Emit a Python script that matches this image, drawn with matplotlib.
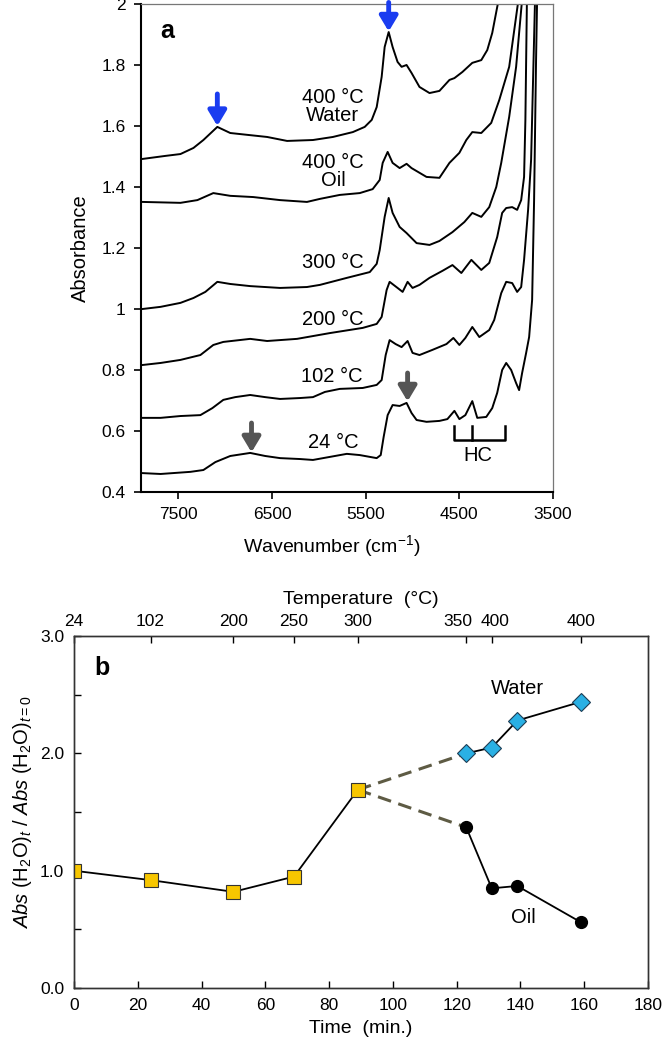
import numpy as np
import matplotlib
matplotlib.use('Agg')
import matplotlib.pyplot as plt
import matplotlib.transforms as mtransforms

plt.rcParams['font.family'] = ['Liberation Sans', 'DejaVu Sans']
plt.rcParams['mathtext.fontset'] = 'custom'
plt.rcParams['mathtext.rm'] = 'Liberation Sans'
plt.rcParams['mathtext.it'] = 'Liberation Sans:italic'
plt.rcParams['mathtext.bf'] = 'Liberation Sans:bold'

# ---- panel a: NIR spectra (wavenumber, absorbance) ----
wn_24 = [7894, 7691, 7372, 7234, 7106, 6947, 6734, 6574, 6415, 6202, 6064, 5883, 5702, 5564,
         5383, 5340, 5309, 5266, 5213, 5138, 5064, 5011, 4957, 4851, 4713, 4628, 4553, 4500,
         4436, 4362, 4309, 4213, 4149, 4096, 4043, 4000, 3947, 3894, 3862, 3830, 3787, 3755,
         3723, 3702, 3681, 3665]
ab_24 = [0.462, 0.459, 0.466, 0.472, 0.498, 0.518, 0.528, 0.518, 0.511, 0.508, 0.505, 0.515,
         0.525, 0.521, 0.511, 0.521, 0.580, 0.652, 0.685, 0.682, 0.692, 0.659, 0.636, 0.630,
         0.633, 0.639, 0.666, 0.639, 0.652, 0.698, 0.643, 0.646, 0.675, 0.725, 0.800, 0.823,
         0.800, 0.757, 0.734, 0.790, 0.856, 0.908, 1.030, 1.357, 1.816, 2.1]

wn_102 = [7894, 7691, 7479, 7266, 7138, 7021, 6894, 6734, 6574, 6415, 6202, 6064, 5936, 5777,
          5532, 5383, 5330, 5287, 5245, 5181, 5117, 5053, 5000, 4926, 4787, 4638, 4564, 4500,
          4436, 4362, 4287, 4181, 4128, 4053, 4000, 3936, 3883, 3840, 3809, 3766, 3734, 3713,
          3685]
ab_102 = [0.643, 0.643, 0.649, 0.652, 0.675, 0.702, 0.711, 0.718, 0.711, 0.705, 0.708, 0.711,
          0.728, 0.738, 0.741, 0.751, 0.767, 0.849, 0.898, 0.885, 0.875, 0.895, 0.856, 0.849,
          0.866, 0.885, 0.905, 0.882, 0.905, 0.941, 0.908, 0.931, 0.964, 1.052, 1.089, 1.085,
          1.056, 1.072, 1.161, 1.325, 1.489, 1.751, 2.1]

wn_200 = [7894, 7691, 7479, 7266, 7128, 7021, 6734, 6553, 6234, 5883, 5532, 5383, 5330, 5277,
          5245, 5160, 5106, 5053, 5000, 4926, 4819, 4681, 4574, 4479, 4372, 4266, 4181, 4096,
          4043, 4000, 3936, 3883, 3840, 3809, 3795, 3775]
ab_200 = [0.816, 0.823, 0.833, 0.849, 0.882, 0.892, 0.902, 0.895, 0.902, 0.921, 0.938, 0.951,
          0.974, 1.062, 1.089, 1.069, 1.056, 1.089, 1.069, 1.079, 1.102, 1.125, 1.144, 1.118,
          1.161, 1.128, 1.151, 1.236, 1.315, 1.331, 1.334, 1.325, 1.357, 1.433, 1.62, 2.1]

wn_300 = [7883, 7691, 7479, 7340, 7213, 7085, 6947, 6734, 6415, 6128, 5989, 5702, 5457, 5383,
          5351, 5298, 5255, 5213, 5138, 5064, 4957, 4819, 4713, 4574, 4447, 4362, 4266, 4181,
          4106, 4053, 3968, 3894, 3820]
ab_300 = [1.000, 1.007, 1.020, 1.036, 1.056, 1.089, 1.082, 1.075, 1.069, 1.072, 1.079, 1.102,
          1.121, 1.148, 1.193, 1.302, 1.364, 1.315, 1.269, 1.249, 1.216, 1.210, 1.223, 1.252,
          1.285, 1.315, 1.302, 1.334, 1.400, 1.479, 1.630, 1.794, 2.05]

wn_oil = [7883, 7479, 7298, 7128, 6947, 6702, 6415, 6128, 5989, 5777, 5564, 5426, 5351, 5319,
          5266, 5213, 5138, 5064, 5011, 4851, 4713, 4606, 4500, 4426, 4362, 4266, 4160, 4074,
          3968, 3862]
ab_oil = [1.351, 1.348, 1.357, 1.380, 1.371, 1.367, 1.357, 1.351, 1.361, 1.374, 1.380, 1.393,
          1.423, 1.479, 1.515, 1.479, 1.462, 1.476, 1.462, 1.433, 1.430, 1.479, 1.512, 1.554,
          1.580, 1.577, 1.610, 1.685, 1.794, 2.03]

wn_water = [7883, 7638, 7479, 7340, 7234, 7085, 6947, 6766, 6553, 6340, 6064, 5851, 5638, 5511,
            5436, 5383, 5330, 5298, 5255, 5213, 5160, 5117, 5064, 5011, 4926, 4819, 4713, 4606,
            4553, 4468, 4362, 4266, 4202, 4149, 4096, 4070]
ab_water = [1.492, 1.502, 1.508, 1.528, 1.554, 1.597, 1.577, 1.571, 1.564, 1.551, 1.554, 1.564,
            1.580, 1.597, 1.620, 1.662, 1.761, 1.859, 1.908, 1.859, 1.810, 1.794, 1.800, 1.774,
            1.728, 1.708, 1.715, 1.751, 1.757, 1.777, 1.807, 1.816, 1.849, 1.905, 1.990, 2.03]

spec_labels = ['24 °C', '102 °C', '200 °C', '300 °C', '400 °C\nOil', '400 °C\nWater']
label_pos = [(5845, 0.561), (5860, 0.777), (5855, 0.964), (5850, 1.151), (5851, 1.45),
             (5851, 1.665)]

# ---- panel b: absorbance ratio vs time ----
t_heat = [0, 24, 50, 69, 89]
r_heat = [1.00, 0.92, 0.82, 0.95, 1.69]
t_water = [123, 131, 139, 159]
r_water = [2.00, 2.05, 2.28, 2.44]
t_oil = [123, 131, 139, 159]
r_oil = [1.37, 0.85, 0.87, 0.56]
temp_times = [0, 24, 50, 69, 89, 123, 131, 159]
temp_labels = ['24', '102', '200', '250', '300', '350', '400', '400']

fig = plt.figure(figsize=(6.63, 10.51), dpi=100)

# ================= panel a =================
ax1 = fig.add_axes([0.2127, 0.5319, 0.6214, 0.4643])
for w, a in [(wn_24, ab_24), (wn_102, ab_102), (wn_200, ab_200),
             (wn_300, ab_300), (wn_oil, ab_oil), (wn_water, ab_water)]:
    ax1.plot(w, a, color='black', lw=1.4, solid_joinstyle='round')
ax1.set_xlim(7900, 3500)
ax1.set_ylim(0.4, 2.0)
ax1.set_xticks([7500, 6500, 5500, 4500, 3500])
ax1.set_yticks([0.4, 0.6, 0.8, 1.0, 1.2, 1.4, 1.6, 1.8, 2.0])
ax1.set_yticklabels(['0.4', '0.6', '0.8', '1', '1.2', '1.4', '1.6', '1.8', '2'])
ax1.tick_params(direction='out', length=5, width=1.2, labelsize=12.5, pad=6)
ax1.set_xlabel('Wavenumber (cm$^{-1}$)', fontsize=14, labelpad=8)
ax1.xaxis.set_label_coords(0.462, -0.085)
ax1.set_ylabel('Absorbance', fontsize=14.5, labelpad=8)
for s in ['left', 'bottom']:
    ax1.spines[s].set_linewidth(1.5)
for s in ['top', 'right']:
    ax1.spines[s].set_linewidth(0.9)
    ax1.spines[s].set_color('#777777')

for lab, (x, y) in zip(spec_labels, label_pos):
    ax1.text(x, y, lab, ha='center', va='center', fontsize=14.5, linespacing=0.95)
ax1.text(7617, 1.91, 'a', fontsize=18, fontweight='bold', ha='center', va='center')

# arrows
def arrow(ax, x, y0, y1, c):
    ax.annotate('', xy=(x, y1), xytext=(x, y0), annotation_clip=False,
                arrowprops=dict(arrowstyle='-|>,head_width=0.45,head_length=0.75',
                                lw=3.5, color=c, mutation_scale=12,
                                shrinkA=0, shrinkB=0))

arrow(ax1, 7085, 1.705, 1.600, '#1a3cf0')
arrow(ax1, 5255, 2.005, 1.910, '#1a3cf0')
arrow(ax1, 6720, 0.626, 0.530, '#555555')
arrow(ax1, 5053, 0.790, 0.697, '#555555')

# HC bracket
ax1.plot([4553, 4553, 4011, 4011], [0.616, 0.571, 0.571, 0.616], color='black', lw=1.8)
ax1.plot([4362, 4362], [0.571, 0.616], color='black', lw=1.8)
ax1.text(4300, 0.521, 'HC', ha='center', va='center', fontsize=14.5)

# ================= panel b =================
ax2 = fig.add_axes([0.1116, 0.0599, 0.8658, 0.3349])
ax2.plot([t_heat[-1], t_water[0]], [r_heat[-1], r_water[0]], color='#5e5b44', lw=2.2,
         dashes=(4.5, 2.5), zorder=2)
ax2.plot([t_heat[-1], t_oil[0]], [r_heat[-1], r_oil[0]], color='#5e5b44', lw=2.2,
         dashes=(4.5, 2.5), zorder=2)
ax2.plot(t_heat, r_heat, color='black', lw=1.3, marker='s', ms=9.5,
         mfc='#f7c600', mec='#333333', mew=0.8, zorder=3)
ax2.plot(t_water, r_water, color='black', lw=1.3, marker='D', ms=9.5,
         mfc='#2ab0e4', mec='#1d3d55', mew=0.8, zorder=3)
ax2.plot(t_oil, r_oil, color='black', lw=1.3, marker='o', ms=8.5,
         mfc='black', mec='black', zorder=3)
ax2.set_xlim(0, 180)
ax2.set_ylim(0, 3.0)
ax2.set_xticks(np.arange(0, 181, 20))
ax2.set_yticks([0, 0.5, 1.0, 1.5, 2.0, 2.5, 3.0])
ax2.set_yticklabels(['0.0', '', '1.0', '', '2.0', '', '3.0'])
ax2.tick_params(direction='in', length=5, width=1.0, labelsize=12.5, pad=7)
ax2.tick_params(axis='y', right=False)
ax2.set_xlabel('Time  (min.)', fontsize=14, labelpad=5)
ax2.set_ylabel(r'$\mathit{Abs}$ (H$_2$O)$_{\mathit{t}}$ / $\mathit{Abs}$ (H$_2$O)$_{\mathit{t=0}}$',
               fontsize=14.5, labelpad=4)
for s in ax2.spines.values():
    s.set_linewidth(1.0)
    s.set_color('#333333')
ax2.text(8.8, 2.73, 'b', fontsize=18, fontweight='bold', ha='center', va='center')
ax2.text(139, 2.55, 'Water', fontsize=14.5, ha='center', va='center')
ax2.text(141, 0.60, 'Oil', fontsize=14.5, ha='center', va='center')

ax3 = ax2.twiny()
ax3.set_xlim(0, 180)
ax3.set_xticks(temp_times)
ax3.set_xticklabels(temp_labels)
ax3.tick_params(direction='in', length=5, width=1.0, labelsize=12.5, pad=5)
ax3.set_xlabel('Temperature  (°C)', fontsize=14, labelpad=7)
for s in ax3.spines.values():
    s.set_linewidth(1.0)
    s.set_color('#333333')
# keep the close 350 / 400 labels apart
tl = ax3.get_xticklabels()
tl[5].set_transform(tl[5].get_transform() + mtransforms.ScaledTranslation(-8 / 100, 0, fig.dpi_scale_trans))
tl[6].set_transform(tl[6].get_transform() + mtransforms.ScaledTranslation(3 / 100, 0, fig.dpi_scale_trans))

fig.savefig('out.png', dpi=100)
